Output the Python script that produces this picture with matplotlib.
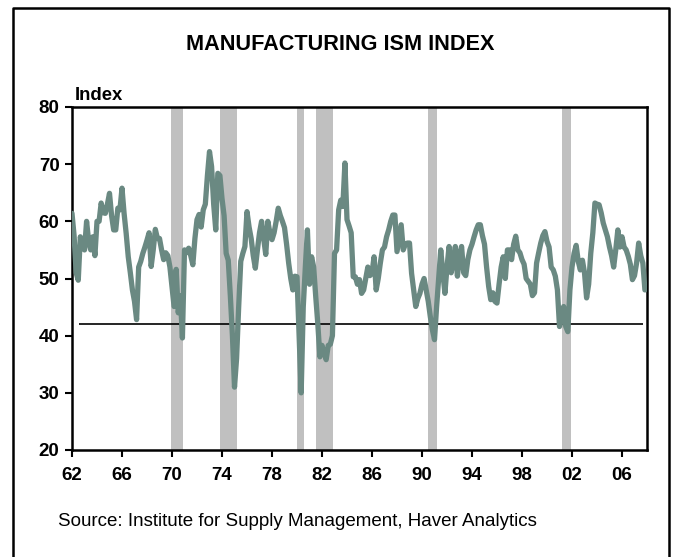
"""
Manufacturing ISM index, 1962-2007, with NBER recessions shaded.
Values read off the reference chart at roughly two-month steps.
"""

import matplotlib
matplotlib.use("Agg")  # no display
import matplotlib.pyplot as plt
import numpy as np

plt.rcParams["font.family"] = ["Liberation Sans", "DejaVu Sans"]

START_YEAR = 1962
STEPS_PER_YEAR = 6  # Jan, Mar, May, Jul, Sep, Nov

# one row per year, six readings each
ism_1960s = [
    [61.4, 57.5, 51.0, 49.7, 57.3, 55.5],  # 62
    [55.0, 60.0, 56.5, 55.0, 57.3, 54.0],  # 63
    [60.0, 60.0, 63.2, 61.5, 61.4, 63.0],  # 64
    [64.9, 61.0, 58.5, 58.5, 62.3, 62.0],  # 65
    [65.8, 61.4, 57.9, 53.8, 51.0, 48.0],  # 66
    [46.0, 42.8, 52.0, 53.0, 54.4, 55.5],  # 67
    [56.7, 58.0, 52.1, 55.0, 58.6, 57.0],  # 68
    [57.0, 55.0, 53.3, 54.5, 54.0, 52.0],  # 69
]
ism_1970s = [
    [48.6, 45.1, 51.6, 44.0, 47.0, 39.6],  # 70
    [55.0, 54.5, 55.3, 54.0, 52.4, 57.0],  # 71
    [60.3, 61.2, 59.0, 62.0, 63.0, 68.0],  # 72
    [72.2, 69.6, 63.0, 58.5, 68.4, 68.0],  # 73
    [64.0, 61.0, 54.4, 53.2, 47.0, 40.0],  # 74
    [31.0, 36.0, 45.0, 53.0, 54.4, 55.6],  # 75
    [61.7, 59.0, 57.0, 54.0, 51.8, 55.0],  # 76
    [58.0, 60.0, 57.0, 54.2, 60.0, 58.0],  # 77
    [56.8, 58.0, 60.0, 62.3, 61.0, 60.0],  # 78
    [58.9, 56.0, 52.7, 50.0, 48.0, 50.4],  # 79
]
ism_1980s = [
    [50.3, 40.0, 30.0, 45.0, 52.0, 58.5],  # 80
    [49.0, 53.8, 52.0, 46.8, 42.0, 36.3],  # 81
    [38.3, 37.0, 35.8, 38.3, 38.5, 40.0],  # 82
    [54.4, 55.0, 62.0, 63.7, 62.6, 70.2],  # 83
    [60.3, 59.2, 58.0, 50.3, 50.3, 49.0],  # 84
    [49.8, 47.4, 48.0, 50.0, 52.0, 50.5],  # 85
    [51.0, 53.8, 48.0, 50.0, 52.7, 55.0],  # 86
    [55.5, 57.3, 58.5, 60.0, 61.1, 61.1],  # 87
    [54.7, 57.0, 59.4, 55.0, 56.0, 56.2],  # 88
    [56.2, 50.9, 48.0, 45.1, 46.5, 47.4],  # 89
]
ism_1990s = [
    [49.0, 50.0, 48.0, 46.0, 43.3, 41.0],  # 90
    [39.3, 45.0, 50.0, 55.0, 51.0, 47.4],  # 91
    [52.0, 55.6, 51.0, 53.0, 55.6, 50.4],  # 92
    [54.0, 55.6, 51.0, 50.5, 53.3, 55.0],  # 93
    [56.0, 57.3, 58.5, 59.4, 59.4, 57.5],  # 94
    [56.0, 52.0, 48.6, 46.3, 47.5, 46.0],  # 95
    [45.7, 49.0, 52.0, 53.8, 50.0, 55.0],  # 96
    [55.0, 53.3, 56.0, 57.4, 55.0, 54.5],  # 97
    [53.3, 52.5, 50.0, 49.5, 49.0, 47.0],  # 98
    [47.5, 52.7, 54.5, 56.2, 57.5, 58.2],  # 99
]
ism_2000s = [
    [56.5, 55.5, 52.0, 51.5, 50.4, 48.0],  # 00
    [41.6, 43.0, 45.1, 41.6, 40.7, 48.0],  # 01
    [52.0, 54.4, 55.8, 53.0, 51.5, 53.2],  # 02
    [51.0, 46.6, 49.0, 54.4, 58.0, 63.2],  # 03
    [63.0, 62.9, 61.5, 59.7, 58.5, 57.3],  # 04
    [55.5, 54.0, 52.0, 55.0, 58.5, 55.5],  # 05
    [57.3, 55.5, 55.0, 53.9, 52.5, 49.8],  # 06
    [50.5, 52.7, 56.2, 54.0, 52.7, 48.0],  # 07
]

# NBER recessions (start, end) in decimal years
recessions = [
    (1969.92, 1970.85),
    (1973.84, 1975.18),
    (1980.0, 1980.55),
    (1981.5, 1982.88),
    (1990.5, 1991.2),
    (2001.2, 2001.88),
]

REFERENCE_LEVEL = 42
ref_span = (1962.55, 2007.7)

year_ticks = list(range(1962, 2007, 4))
year_labels = [f"{y % 100:02d}" for y in year_ticks]
SOURCE = "Source: Institute for Supply Management, Haver Analytics"


def main():
    values = np.concatenate([np.ravel(d) for d in
                             (ism_1960s, ism_1970s, ism_1980s, ism_1990s, ism_2000s)])
    dates = START_YEAR + np.arange(len(values)) / STEPS_PER_YEAR

    fig = plt.figure(figsize=(6.81, 5.57), dpi=100)
    ax = fig.add_axes([72 / 681, 1 - 450 / 557, 575 / 681, 343 / 557])

    for start, end in recessions:
        ax.axvspan(start, end, color="#c0c0c0", lw=0, zorder=1)

    ax.plot(dates, values, color="#6a8982", lw=3.8, solid_joinstyle="round",
            solid_capstyle="round", zorder=3)
    ax.hlines(REFERENCE_LEVEL, *ref_span, color="black", lw=1.2, zorder=2)

    ax.set_xlim(1962, 2008)
    ax.set_ylim(20, 80)
    ax.set_yticks(range(20, 81, 10))
    ax.set_xticks(year_ticks)
    ax.set_xticklabels(year_labels)
    ax.tick_params(direction="out", length=5, width=1.5, labelsize=13.5, pad=4)
    ax.tick_params(axis="x", pad=7)
    for lab in ax.get_xticklabels() + ax.get_yticklabels():
        lab.set_fontweight("bold")
    for side in ("left", "bottom", "right", "top"):
        ax.spines[side].set_linewidth(1.8)

    ax.text(0.005, 1.01, "Index", transform=ax.transAxes, fontsize=13.3,
            fontweight="bold", ha="left", va="bottom")
    fig.text(0.5, 1 - 45 / 557, "MANUFACTURING ISM INDEX", ha="center",
             va="center", fontsize=15.6, fontweight="bold")
    fig.text(58 / 681, 1 - 522 / 557, SOURCE, ha="left", va="center",
             fontsize=13.5)

    # outer frame around the whole graphic
    frame_x = [13 / 681, 13 / 681, 669 / 681, 669 / 681]
    frame_y = [0, 1 - 8 / 557, 1 - 8 / 557, 0]
    fig.add_artist(plt.Line2D(frame_x, frame_y, color="black", lw=1.8))

    fig.savefig("out.png", dpi=100)
    plt.close(fig)


if __name__ == "__main__":
    main()
